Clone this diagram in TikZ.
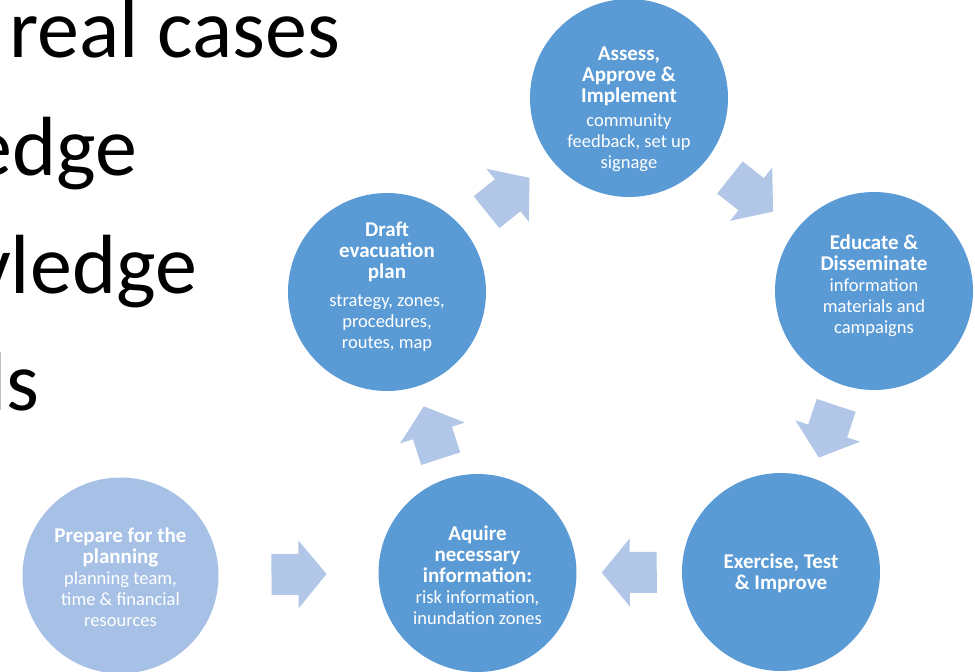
\documentclass[tikz,border=0pt]{standalone}
\usepackage{fontspec}
\setmainfont{Carlito}
\usetikzlibrary{calc}
\definecolor{darkblue}{HTML}{5B9BD5}
\definecolor{lightblue}{HTML}{A6C1E5}
\definecolor{arrowblue}{HTML}{B2C7E7}
\newcommand\hdf{\fontsize{21}{21}\selectfont\bfseries}
\newcommand\sbf{\fontsize{18.5}{21}\selectfont}
\newcommand\cycarrow[2]{\path let \p1=(#1.center), \p2=(#2.center), \n1={atan2(\y2-\y1,\x2-\x1)} in pic[rotate=\n1] at ($(\p1)!0.5!(\p2)$) {blockarrow};}
\begin{document}
\begin{tikzpicture}[x=1pt,y=-1pt,
  darkcirc/.style={circle, fill=darkblue, minimum size=198pt, inner sep=0pt},
  lightcirc/.style={circle, fill=lightblue, minimum size=196pt, inner sep=0pt},
  ctext/.style={align=center, text=white, inner sep=0pt, font=\fontsize{19}{21}\selectfont},
  bigtext/.style={font=\fontsize{84}{84}\selectfont, anchor=base east, inner sep=0pt, text=black},
  blockarrow/.pic={\fill[arrowblue] (-27.5,-20.5) -- (-0.5,-20.5) -- (-0.5,-34) -- (27.5,0) -- (-0.5,34) -- (-0.5,20.5) -- (-27.5,20.5) -- cycle;}
]
\useasboundingbox (0,0) rectangle (975,672);
\fill[white] (0,0) rectangle (975,672);
\clip (0,0) rectangle (975,672);

% slide text (cut at the left edge)
\node[bigtext, anchor=base west] (t1) at (9,57) {real cases};
\node[bigtext] (t2) at (137,175) {edge};
\node[bigtext] (t3) at (197,293) {vledge};
\node[bigtext] (t4) at (40,410) {ls};

% circles
\node[darkcirc] (assess) at (629,98) {};
\node[darkcirc] (draft) at (387,292) {};
\node[darkcirc] (educate) at (874,291) {};
\node[darkcirc] (exercise) at (781,572) {};
\node[darkcirc] (aquire) at (477.5,573) {};
\node[lightcirc] (prepare) at (120.5,575.5) {};

% texts
\node[ctext] (assesstxt) at (629,109) {\hdf Assess,\\ \hdf Approve \&\\ \hdf Implement\\[3pt] \sbf community\\ \sbf feedback, set up\\ \sbf signage};
\node[ctext] (drafttxt) at (387,287) {\hdf Draft\\ \hdf evacuation\\ \hdf plan\\[7pt] \sbf strategy, zones,\\ \sbf procedures,\\ \sbf routes, map};
\node[ctext] (educatetxt) at (874,286) {\hdf Educate \&\\ \hdf Disseminate\\ \sbf information\\ \sbf materials and\\ \sbf campaigns};
\node[ctext] (exercisetxt) at (781,573) {\hdf Exercise, Test\\ \hdf \& Improve};
\node[ctext] (aquiretxt) at (477.5,575) {\hdf Aquire\\ \hdf necessary\\ \hdf information:\\ \sbf risk information,\\ \sbf inundation zones};
\node[ctext] (preparetxt) at (120.5,577) {\hdf Prepare for the\\ \hdf planning\\ \sbf planning team,\\ \sbf time \& financial\\ \sbf resources};

% block arrows between circles
\cycarrow{prepare}{aquire}
\cycarrow{aquire}{draft}
\cycarrow{draft}{assess}
\cycarrow{assess}{educate}
\cycarrow{educate}{exercise}
\cycarrow{exercise}{aquire}
\end{tikzpicture}
\end{document}
